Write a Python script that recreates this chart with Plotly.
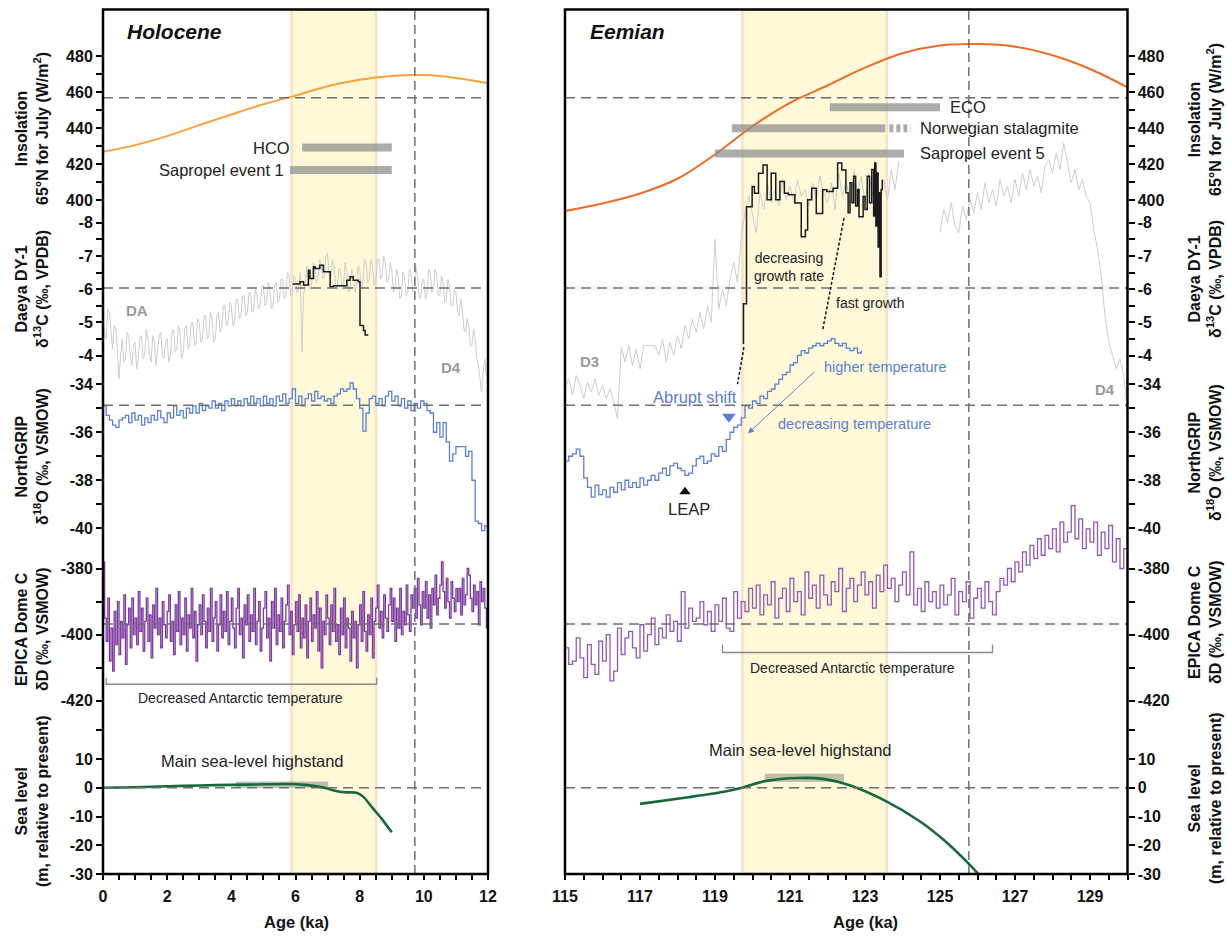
import numpy as np
import plotly.graph_objects as go

W, H = 1227, 936
TOP, BOT = 9.5, 874.0
FONT = "Liberation Sans, Arial, sans-serif"

# ---------------- DATA ----------------
holo_ticks = [0, 2, 4, 6, 8, 10, 12]
eem_ticks = [115, 117, 119, 121, 123, 125, 127, 129]

# Insolation 65N July (W/m2)
ins_holo_age = [0, 1, 2, 3, 4, 5, 6, 7, 8, 9, 10, 11, 12]
ins_holo = [426.8, 430.5, 435.5, 441.6, 447.5, 453.2, 458.0, 463.2, 466.8, 468.9, 469.4, 467.8, 464.8]
ins_eem_age = [115, 116, 117, 118, 119, 120, 121, 122, 123, 124, 125, 126, 127, 128, 129, 130]
ins_eem = [393.9, 398.1, 403.6, 411.8, 425.3, 441.0, 454.0, 463.6, 473.5, 481.5, 485.8, 486.6, 485.2, 480.4, 472.8, 462.6]

# Daeya DY-1 d13C (gray composite record), 0.05 ka steps
daeya_holo_age = np.round(np.arange(241) * 0.05, 2)
daeya_holo = [
    -5.1, -4.7, -4.5, -5.4, -5.3, -4.6, -4.2, -4.9, -4.8, -4.1, -3.3, -4.0, -4.5, -3.8, -3.9, -4.7, -4.6, -4.0, -3.7, -4.3,
    -4.4, -3.6, -3.9, -4.5, -4.6, -3.9, -4.0, -4.8, -4.5, -4.0, -3.8, -4.6, -4.4, -3.7, -4.1, -4.6, -4.7, -4.0, -3.9, -4.4,
    -4.5, -3.8, -4.0, -4.7, -4.8, -4.1, -4.2, -4.9, -4.7, -3.9, -4.1, -4.8, -4.9, -4.2, -4.3, -5.0, -5.0, -4.3, -4.4, -5.1,
    -5.0, -4.4, -4.5, -5.2, -5.2, -4.5, -4.6, -5.3, -5.1, -4.4, -4.5, -5.2, -5.3, -4.7, -4.8, -5.5, -5.5, -4.9, -5.0, -5.6,
    -5.5, -4.9, -5.0, -5.7, -5.7, -5.1, -5.2, -5.8, -5.8, -5.2, -5.3, -5.9, -5.9, -5.3, -5.4, -6.0, -5.8, -5.4, -5.5, -6.1,
    -6.1, -5.5, -5.6, -6.2, -6.0, -5.4, -5.5, -6.1, -6.2, -5.6, -5.7, -6.3, -6.3, -5.7, -5.8, -6.5, -6.4, -5.8, -5.9, -6.4,
    -6.3, -5.9, -6.0, -6.5, -4.1, -5.8, -6.2, -6.7, -6.6, -6.0, -6.1, -6.8, -6.7, -6.2, -6.3, -6.9, -6.8, -6.3, -6.4, -7.0,
    -7.1, -6.4, -6.3, -6.9, -6.7, -6.1, -6.0, -6.6, -6.6, -6.0, -6.2, -6.8, -6.5, -5.9, -6.0, -6.6, -6.4, -5.9, -6.1, -6.7,
    -6.6, -6.0, -6.2, -6.9, -6.8, -6.2, -6.3, -6.9, -6.7, -6.1, -6.2, -6.9, -6.9, -6.3, -6.4, -7.0, -6.8, -6.2, -6.3, -6.8,
    -6.6, -5.9, -6.0, -6.6, -6.4, -5.7, -5.8, -6.5, -6.3, -5.8, -5.9, -6.6, -6.5, -5.9, -6.0, -6.7, -6.4, -5.8, -5.7, -6.3,
    -6.3, -5.7, -5.9, -6.6, -6.5, -5.9, -6.0, -6.6, -6.4, -5.8, -5.8, -6.4, -6.2, -5.6, -5.7, -6.3, -6.1, -5.5, -5.5, -6.0,
    -5.9, -5.3, -5.2, -5.7, -5.4, -4.8, -4.7, -5.1, -4.9, -4.3, -4.3, -4.8, -4.5, -3.9, -3.7, -3.2, -2.9, -3.5, -3.9, -3.4,
    -3.6]
daeya_eem_age = np.round(115 + np.arange(151) * 0.1, 2)
daeya_eem = [
    -3.0, -3.3, -2.8, -3.4, -3.1, -2.7, -3.2, -2.9, -3.3, -2.8,
    -3.1, -2.7, -3.0, -2.6, -2.1, -4.25, -3.8, -4.3, -3.7, -4.2,
    -3.6, -4.3, -4.3, -4.3, -4.3, -4.0, -4.5, -3.8, -4.4, -4.0,
    -4.6, -4.2, -4.9, -4.5, -5.1, -4.7, -5.3, -4.8, -5.5, -5.0,
    -7.5, -5.4, -6.0, -5.5, -6.3, -6.8, -6.2, -7.6, -8.3, -8.8,
    -8.2, -7.7, -8.9, -8.4, -9.2, -8.6, -9.0, -8.5, -9.3, -8.7,
    -9.1, -8.6, -9.3, -8.8, -9.0, -8.5, -9.2, -8.7, -9.4, -8.9,
    -8.6, -9.2, -8.4, -9.5, -8.8, -9.3, -8.5, -9.6, -8.9, -9.4,
    -8.6, -9.5, -8.8, -9.7, -8.5, -9.3, -8.7, -9.6, -9.0, -9.85,
    None, None, None, None, None, None, None, None, None, None,
    -7.7, -8.4, -8.0, -8.6, -7.9, -7.7, -8.5, -8.1, -8.7, -8.3,
    -8.9, -8.4, -9.2, -8.6, -9.0, -8.5, -9.3, -8.8, -9.1, -8.6,
    -9.3, -8.8, -9.5, -9.0, -9.6, -9.1, -9.4, -8.9, -9.7, -9.9,
    -9.5, -10.1, -9.6, -10.4, -9.8, -9.2, -9.6, -9.0, -9.3, -8.8,
    -8.6, -7.8, -7.2, -6.4, -5.2, -4.4, -4.0, -3.6, -3.9, -3.4,
    -2.3]

# Daeya DY-1 d13C (black, this stalagmite)
dy1_holo_age = [5.91, 6.14, 6.25, 6.40, 6.45, 6.56, 6.61, 6.76, 6.87, 7.08, 7.18, 7.60, 7.70,
                7.80, 7.96, 8.01, 8.12, 8.17, 8.27]
dy1_holo = [-6.15, -6.22, -6.12, -6.57, -6.32, -6.67, -6.62, -6.72, -6.52, -6.07, -6.10, -6.27, -6.37,
            -6.27, -6.22, -4.90, -4.75, -4.62, -4.62]
dy1_eem_age = [119.76, 119.76, 119.84, 119.99, 120.05, 120.16, 120.28, 120.39, 120.50, 120.62, 120.73,
               120.85, 120.96, 121.13, 121.30, 121.41, 121.47, 121.58, 121.70, 121.87, 121.98, 122.15,
               122.27, 122.38, 122.49, 122.55, 122.60, 122.65, 122.70, 122.75, 122.80, 122.84, 122.95,
               123.00, 123.06, 123.12, 123.18, 123.23, 123.26, 123.29, 123.32, 123.35, 123.38, 123.40,
               123.43, 123.46]
dy1_eem = [-4.35, -5.56, -8.48, -9.09, -8.89, -9.49, -9.74, -8.69, -9.49, -8.69, -9.24,
           -8.89, -8.84, -8.59, -7.58, -7.78, -8.69, -9.04, -8.28, -8.99, -8.94, -9.04,
           -9.80, -9.59, -8.90, -8.30, -9.20, -8.60, -9.40, -8.50, -9.00, -8.18, -8.79,
           -8.40, -9.40, -8.60, -9.60, -8.20, -9.80, -7.90, -9.50, -7.27, -8.90, -6.37,
           -9.00, -9.29]

# NorthGRIP d18O
ngrip_holo_age = np.round(np.arange(121) * 0.1, 2)
ngrip_holo = [
    -34.9, -35.3, -35.5, -35.7, -35.8, -35.5, -35.4, -35.3, -35.6, -35.2,
    -35.5, -35.3, -35.7, -35.4, -35.6, -35.3, -35.5, -35.1, -35.4, -35.6,
    -35.2, -35.4, -34.9, -35.3, -35.1, -35.4, -35.0, -35.2, -34.9, -35.2,
    -34.8, -35.1, -34.9, -35.0, -34.7, -35.0, -34.8, -35.1, -34.7, -34.9,
    -34.6, -34.9, -34.7, -34.9, -34.6, -34.8, -34.5, -34.8, -34.6, -34.9,
    -34.5, -34.8, -34.6, -34.9, -34.5, -34.7, -34.4, -34.8, -34.6, -34.2,
    -34.8, -34.5, -34.9, -34.6, -34.4, -34.7, -34.3, -34.6, -34.5, -34.7,
    -34.6, -34.8, -34.5, -34.4, -34.2, -34.3, -34.2, -33.95, -34.2, -34.6,
    -35.0, -35.95, -35.2, -34.6, -34.5, -34.8, -34.6, -34.9, -34.5, -34.3,
    -34.7, -34.5, -34.9, -34.6, -35.0, -34.7, -35.1, -34.8, -35.0, -34.7,
    -34.8, -35.1, -35.2, -36.0, -35.6, -36.2, -35.6, -36.4, -37.2, -36.9,
    -36.6, -36.6, -36.6, -37.0, -36.8, -38.0, -39.7, -39.8, -40.1, -39.9,
    -41.3]
ngrip_eem_age = np.round(115 + np.arange(80) * 0.1, 2)
ngrip_eem = [
    -37.2, -37.0, -36.9, -36.7, -37.0, -37.9, -38.3, -38.7, -38.2, -38.6,
    -38.4, -38.7, -38.3, -38.5, -38.1, -38.4, -38.0, -38.3, -38.1, -38.3,
    -37.9, -38.2, -38.0, -37.8, -38.0, -37.7, -37.5, -37.8, -37.4, -37.3,
    -37.5, -37.6, -37.8, -37.7, -37.4, -37.1, -37.0, -37.3, -37.2, -36.9,
    -37.0, -36.6, -36.8, -36.3, -36.0, -35.8, -35.7, -35.4, -34.9, -35.0,
    -34.7, -34.8, -34.5, -34.6, -34.3, -34.2, -34.0, -33.8, -33.6, -33.5,
    -33.2, -33.1, -32.8, -32.6, -32.7, -32.5, -32.4, -32.3, -32.4, -32.3,
    -32.2, -32.1, -32.3, -32.4, -32.3, -32.5, -32.6, -32.5, -32.7, -32.6]

# EPICA Dome C dD
epica_holo_age = np.round(np.arange(241) * 0.05, 2)
epica_holo = [
    -378, -395, -402, -389, -408, -398, -411, -393, -403, -390, -406, -396, -401, -388, -409, -397, -392, -404, -389, -400,
    -395, -403, -387, -399, -392, -405, -396, -389, -402, -394, -407, -391, -398, -386, -400, -395, -404, -390, -397, -401,
    -393, -388, -402, -396, -406, -391, -399, -387, -403, -395, -400, -389, -405, -394, -398, -386, -401, -393, -408, -397,
    -391, -400, -388, -396, -404, -392, -399, -386, -402, -395, -390, -405, -397, -388, -401, -393, -399, -387, -403, -396,
    -389, -398, -404, -392, -386, -400, -395, -407, -391, -397, -388, -402, -394, -399, -386, -403, -396, -390, -405, -398,
    -392, -387, -401, -395, -408, -390, -398, -386, -403, -394, -399, -389, -404, -396, -391, -385, -400, -393, -406, -397,
    -390, -399, -388, -404, -395, -401, -391, -407, -396, -389, -402, -394, -398, -387, -405, -392, -410, -396, -400, -388,
    -395, -403, -391, -399, -386, -402, -397, -406, -392, -400, -389, -404, -395, -398, -408, -393, -401, -396, -410, -397,
    -391, -402, -387, -399, -405, -394, -400, -389, -407, -396, -392, -385, -398, -393, -401, -388, -395, -399, -391, -386,
    -396, -389, -402, -392, -398, -386, -400, -393, -397, -385, -394, -399, -388, -392, -386, -395, -383, -391, -397, -387,
    -392, -384, -395, -388, -398, -386, -391, -382, -394, -389, -385, -378, -387, -392, -383, -390, -395, -384, -389, -393,
    -386, -390, -386, -394, -383, -391, -388, -380, -382, -389, -393, -385, -391, -387, -397, -384, -390, -386, -392, -398,
    -402]
epica_eem_age = np.round(115 + np.arange(151) * 0.1, 2)
epica_eem = [
    -404, -409, -408, -401, -407, -413, -403, -409, -412, -402,
    -408, -400, -414, -411, -398, -406, -401, -399, -404, -407,
    -397, -405, -400, -395, -403, -398, -401, -394, -399, -396,
    -402, -387, -398, -392, -396, -395, -390, -397, -393, -399,
    -391, -396, -389, -398, -399, -387, -395, -390, -393, -386,
    -392, -385, -394, -388, -391, -384, -395, -389, -386, -393,
    -383, -390, -387, -394, -381, -389, -385, -392, -382, -388,
    -391, -384, -387, -380, -393, -386, -383, -390, -385, -381,
    -388, -384, -392, -382, -387, -379, -386, -383, -390, -385,
    -381, -388, -375, -391, -386, -393, -384, -390, -387, -392,
    -385, -391, -388, -383, -394, -387, -390, -384, -395, -389,
    -386, -392, -384, -390, -394, -387, -383, -385, -380, -384,
    -378, -381, -375, -379, -373, -377, -371, -376, -370, -374,
    -368, -375, -366, -372, -369, -361, -371, -365, -374, -368,
    -372, -366, -376, -369, -374, -367, -378, -371, -380, -374,
    -376]

# Sea level (m relative to present)
sea_holo_age = [0, 1, 2, 3, 4, 5, 5.8, 6.3, 6.7, 7.0, 7.3, 7.6, 7.9, 8.1, 8.4, 8.7, 9.0]
sea_holo = [0, 0.2, 0.5, 0.8, 1.0, 1.2, 1.3, 1.0, 0.4, -0.3, -1.2, -1.6, -1.7, -3.0, -7.0, -11.0, -15.5]
sea_eem_age = [117.0, 118.29, 119.2, 119.77, 120.33, 121.24, 121.93, 122.61, 123.52, 124.43, 125.11, 125.77, 126.02]
sea_eem = [-5.6, -3.3, -1.5, 0.2, 2.3, 3.4, 3.0, 0.8, -4.4, -11.4, -18.3, -26.5, -30.0]

# axis tick values / labels
ins_tv = [400, 410, 420, 430, 440, 450, 460, 470, 480]
ins_tt = ["400", "", "420", "", "440", "", "460", "", "480"]
dae_tv = [-8, -7.5, -7, -6.5, -6, -5.5, -5, -4.5, -4]
dae_tt = ["-8", "", "-7", "", "-6", "", "-5", "", "-4"]
ngr_tv = [-34, -35, -36, -37, -38, -39, -40]
ngr_tt = ["-34", "", "-36", "", "-38", "", "-40"]
epi_tv = [-380, -390, -400, -410, -420]
epi_tt = ["-380", "", "-400", "", "-420"]
sea_tv = [20, 10, 0, -10, -20, -30]
sea_tt = ["", "10", "0", "-10", "-20", "-30"]

# ---------------- LAYOUT HELPERS ----------------
def yrange(v1, p1, v2, p2):
    s = (v2 - v1) / (p2 - p1)
    return [v1 + (BOT - p1) * s, v1 + (TOP - p1) * s]

def py(p):
    return 1 - p / H

def pxx(p):
    return p / W

ydom = [py(BOT), py(TOP)]
XL = [pxx(103), pxx(488)]
XR = [pxx(565), pxx(1127.5)]

ranges = {
    "ins": yrange(480, 56, 400, 200),
    "dae": yrange(-8, 222.7, -4, 355.5),
    "ngr": yrange(-34, 384.2, -40, 528.3),
    "epi": yrange(-380, 568.5, -420, 700.8),
    "sea": yrange(10, 759, -30, 874),
}
ticks = {"ins": (ins_tv, ins_tt), "dae": (dae_tv, dae_tt), "ngr": (ngr_tv, ngr_tt),
         "epi": (epi_tv, epi_tt), "sea": (sea_tv, sea_tt)}
order = ["ins", "dae", "ngr", "epi", "sea"]
LEFT = {k: "y" + ("" if i == 0 else str(i + 1)) for i, k in enumerate(order)}
RIGHT = {k: "y" + str(i + 6) for i, k in enumerate(order)}

tickfont = dict(family=FONT, size=16, color="#111", weight="bold")

layout = dict(width=W, height=H, margin=dict(l=0, r=0, t=0, b=0, pad=0, autoexpand=False), autosize=False,
              plot_bgcolor="white", paper_bgcolor="white", showlegend=False,
              font=dict(family=FONT, color="#111"))

def xax(dom, rng, tv, anchor, t0):
    return dict(domain=dom, range=rng, anchor=anchor, tickmode="array", tickvals=tv,
                ticks="outside", ticklen=5, tickwidth=1.5, tickcolor="black", automargin=False,
                minor=dict(tick0=t0, dtick=0.5, ticks="outside", ticklen=5, tickwidth=1.5, tickcolor="black"),
                showgrid=False, zeroline=False, showline=False, tickfont=tickfont, ticklabelstandoff=3)

layout["xaxis"] = xax(XL, [0, 12], holo_ticks, "y", 0)
layout["xaxis2"] = xax(XR, [115, 130], eem_ticks, "y6", 115)

for side, mp, xa in (("left", LEFT, "x"), ("right", RIGHT, "x2")):
    base = mp["ins"]
    for k in order:
        name = "yaxis" + mp[k][1:]
        tv, tt = ticks[k]
        ax = dict(range=ranges[k], autorange=False, anchor=xa, side=side, tickmode="array",
                  tickvals=tv, ticktext=tt, ticks="outside", ticklen=6, tickwidth=1.5,
                  tickcolor="black", showgrid=False, zeroline=False, showline=False,
                  tickfont=tickfont, fixedrange=True, automargin=False)
        if mp[k] == base:
            ax["domain"] = ydom
        else:
            ax["overlaying"] = base
        layout[name] = ax

fig = go.Figure(layout=layout)

def add(x, y, xa, ya, color, width, shape="linear", smooth=None):
    line = dict(color=color, width=width, shape=shape)
    if smooth is not None:
        line["smoothing"] = smooth
    fig.add_trace(go.Scatter(x=list(x), y=list(y), xaxis=xa, yaxis=ya, mode="lines",
                             line=line, hoverinfo="skip", connectgaps=False))

# Holocene traces
add(daeya_holo_age, daeya_holo, "x", LEFT["dae"], "#CDCDCD", 1.0)
add(ins_holo_age, ins_holo, "x", LEFT["ins"], "#F7A23A", 2.0, "spline", 1.0)
add(dy1_holo_age, dy1_holo, "x", LEFT["dae"], "#1a1a1a", 1.5, "hv")
add(ngrip_holo_age, ngrip_holo, "x", LEFT["ngr"], "#5A80D2", 1.3, "hv")
add(epica_holo_age, epica_holo, "x", LEFT["epi"], "#7C3A9E", 1.3, "hv")
add(sea_holo_age, sea_holo, "x", LEFT["sea"], "#17683A", 2.6, "spline", 0.8)
# Eemian traces
add(daeya_eem_age, daeya_eem, "x2", RIGHT["dae"], "#CDCDCD", 1.0)
add(ins_eem_age, ins_eem, "x2", RIGHT["ins"], "#F06A28", 2.0, "spline", 1.0)
add(dy1_eem_age, dy1_eem, "x2", RIGHT["dae"], "#1a1a1a", 1.5, "hv")
add(ngrip_eem_age, ngrip_eem, "x2", RIGHT["ngr"], "#5A80D2", 1.3, "hv")
add(epica_eem_age, epica_eem, "x2", RIGHT["epi"], "#9456B4", 1.3, "hv")
add(sea_eem_age, sea_eem, "x2", RIGHT["sea"], "#17683A", 2.6, "spline", 0.8)

# markers
fig.add_trace(go.Scatter(x=[119.37], y=[-35.36], xaxis="x2", yaxis=RIGHT["ngr"], mode="markers",
                         marker=dict(symbol="triangle-down", size=12, color="#5A80D2"), hoverinfo="skip"))
fig.add_trace(go.Scatter(x=[118.2], y=[-38.48], xaxis="x2", yaxis=RIGHT["ngr"], mode="markers",
                         marker=dict(symbol="triangle-up", size=10, color="#111"), hoverinfo="skip"))

shapes = []
# yellow bands
for xa, x0, x1 in (("x", 5.88, 8.51), ("x2", 119.73, 123.58)):
    shapes.append(dict(type="rect", xref=xa, yref="paper", x0=x0, x1=x1, y0=ydom[0], y1=ydom[1],
                       fillcolor="#FFF9DA", line=dict(color="#F9E2C4", width=2.5), layer="below"))
# sea-level highstand rects
shapes.append(dict(type="rect", xref="x", yref=LEFT["sea"], x0=4.15, x1=7.02, y0=0, y1=2.2,
                   fillcolor="rgba(150,150,150,0.6)", line=dict(width=0), layer="below"))
shapes.append(dict(type="rect", xref="x2", yref=RIGHT["sea"], x0=120.33, x1=122.44, y0=2.0, y1=4.9,
                   fillcolor="rgba(150,150,150,0.6)", line=dict(width=0), layer="below"))
# horizontal dashed reference lines
hlines = {"ins": 456.8, "dae": -6.03, "ngr": -34.88, "epi": -396.8, "sea": 0}
for mp, xa in ((LEFT, "x"), (RIGHT, "x2")):
    for k, v in hlines.items():
        shapes.append(dict(type="line", xref=xa + " domain", yref=mp[k], x0=0, x1=1, y0=v, y1=v,
                           line=dict(color="#6E6E6E", width=1.5, dash="10px,6px"), layer="above"))
# vertical dashed lines
for xa, xv in (("x", 9.72), ("x2", 125.77)):
    shapes.append(dict(type="line", xref=xa, yref="paper", x0=xv, x1=xv, y0=ydom[0], y1=ydom[1],
                       line=dict(color="#6E6E6E", width=1.5, dash="9px,5px"), layer="above"))
# gray event bars
bars = [("x", LEFT["ins"], 6.21, 9.0, 429.1), ("x", LEFT["ins"], 5.83, 9.0, 416.7),
        ("x2", RIGHT["ins"], 122.06, 125.0, 451.5), ("x2", RIGHT["ins"], 119.45, 123.54, 439.8),
        ("x2", RIGHT["ins"], 119.0, 124.04, 425.9)]
for xa, ya, x0, x1, v in bars:
    shapes.append(dict(type="line", xref=xa, yref=ya, x0=x0, x1=x1, y0=v, y1=v,
                       line=dict(color="rgba(140,140,140,0.72)", width=8), layer="above"))
shapes.append(dict(type="line", xref="x2", yref=RIGHT["ins"], x0=123.65, x1=124.22, y0=439.8, y1=439.8,
                   line=dict(color="rgba(140,140,140,0.72)", width=8, dash="4px,3px"), layer="above"))
# brackets
shapes.append(dict(type="path", xref="x", yref=LEFT["epi"],
                   path="M 0.1,-413 L 0.1,-415 L 8.53,-415 L 8.53,-413",
                   line=dict(color="#8A8A8A", width=1.3), layer="above"))
shapes.append(dict(type="path", xref="x2", yref=RIGHT["epi"],
                   path="M 119.2,-403 L 119.2,-405.4 L 126.4,-405.4 L 126.4,-403",
                   line=dict(color="#8A8A8A", width=1.3), layer="above"))
# growth-rate connectors
shapes.append(dict(type="line", xref="x2", yref=RIGHT["dae"], x0=119.77, x1=119.6, y0=-4.25, y1=-3.14,
                   line=dict(color="#111", width=1.5, dash="3px,2px"), layer="above"))
shapes.append(dict(type="line", xref="x2", yref=RIGHT["dae"], x0=122.44, x1=121.87, y0=-8.14, y1=-4.76,
                   line=dict(color="#111", width=1.5, dash="3px,2px"), layer="above"))
# frames
for dom in (XL, XR):
    shapes.append(dict(type="rect", xref="paper", yref="paper", x0=dom[0], x1=dom[1], y0=ydom[0], y1=ydom[1],
                       line=dict(color="black", width=2.5), fillcolor="rgba(0,0,0,0)", layer="above"))
fig.update_layout(shapes=shapes)

ann = []
def note(text, x, y, xref, yref, size=16.5, color="#222", xanchor="center", bold=False, italic=False, angle=0):
    f = dict(family=FONT, size=size, color=color)
    if bold:
        f["weight"] = "bold"
    if italic:
        f["style"] = "italic"
    ann.append(dict(text=text, x=x, y=y, xref=xref, yref=yref, showarrow=False, xanchor=xanchor,
                    yanchor="middle", font=f, textangle=angle, align="center", borderpad=0))

# panel titles
note("Holocene", pxx(126), py(32), "paper", "paper", size=21, color="#111", xanchor="left", bold=True, italic=True)
note("Eemian", pxx(589), py(32), "paper", "paper", size=21, color="#111", xanchor="left", bold=True, italic=True)

# axis titles
titles = [("Insolation<br>65°N for July (W/m<sup>2</sup>)", 129, 120),
          ("Daeya DY-1<br>δ<sup>13</sup>C (‰, VPDB)", 289, 279),
          ("NorthGRIP<br>δ<sup>18</sup>O (‰, VSMOW)", 457, 453),
          ("EPICA Dome C<br>δD (‰, VSMOW)", 630, 623),
          ("Sea level<br>(m, relative to present)", 801, 798)]
for t, yl, yr in titles:
    note(t, pxx(32), py(yl), "paper", "paper", size=16, color="#111", bold=True, angle=-90)
    note(t, pxx(1205), py(yr), "paper", "paper", size=16, color="#111", bold=True, angle=-90)

note("Age (ka)", pxx(296), py(921.7), "paper", "paper", size=16.5, color="#111", bold=True)
note("Age (ka)", pxx(865), py(921.7), "paper", "paper", size=16.5, color="#111", bold=True)

# Holocene annotations
note("HCO", 5.85, 429.1, "x", LEFT["ins"], xanchor="right")
note("Sapropel event 1", 5.66, 416.7, "x", LEFT["ins"], xanchor="right")
note("DA", 1.06, -5.36, "x", LEFT["dae"], size=15, color="#9A9A9A", bold=True)
note("D4", 10.85, -3.65, "x", LEFT["dae"], size=15, color="#9A9A9A", bold=True)
note("Decreased Antarctic temperature", 4.27, -419.1, "x", LEFT["epi"], size=14)
note("Main sea-level highstand", 4.67, 9.2, "x", LEFT["sea"])

# Eemian annotations
note("ECO", 125.25, 451.5, "x2", RIGHT["ins"], xanchor="left")
note("Norwegian stalagmite", 124.45, 439.8, "x2", RIGHT["ins"], xanchor="left")
note("Sapropel event 5", 124.43, 425.9, "x2", RIGHT["ins"], xanchor="left")
note("decreasing<br>growth rate", 120.96, -6.68, "x2", RIGHT["dae"], size=14)
note("fast growth", 122.21, -5.58, "x2", RIGHT["dae"], size=14, xanchor="left")
note("D3", 115.65, -3.82, "x2", RIGHT["dae"], size=15, color="#9A9A9A", bold=True)
note("D4", 129.41, -2.97, "x2", RIGHT["dae"], size=15, color="#9A9A9A", bold=True)
note("Abrupt shift", 119.6, -34.55, "x2", RIGHT["ngr"], color="#5A80D2", xanchor="right")
note("higher temperature", 121.87, -33.28, "x2", RIGHT["ngr"], size=14.5, color="#5A80D2", xanchor="left")
note("decreasing temperature", 120.65, -35.66, "x2", RIGHT["ngr"], size=14.5, color="#5A80D2", xanchor="left")
note("LEAP", 118.3, -39.2, "x2", RIGHT["ngr"])
note("Decreased Antarctic temperature", 122.67, -410.0, "x2", RIGHT["epi"], size=14)
note("Main sea-level highstand", 121.27, 13.0, "x2", RIGHT["sea"])

# blue arrow
ann.append(dict(x=119.88, y=-36.05, ax=121.7, ay=-33.42, xref="x2", yref=RIGHT["ngr"],
                axref="x2", ayref=RIGHT["ngr"], text="", showarrow=True, arrowhead=2,
                arrowsize=1.2, arrowwidth=1, arrowcolor="#5A80D2"))

fig.update_layout(annotations=ann)
fig.write_html("out.html")
